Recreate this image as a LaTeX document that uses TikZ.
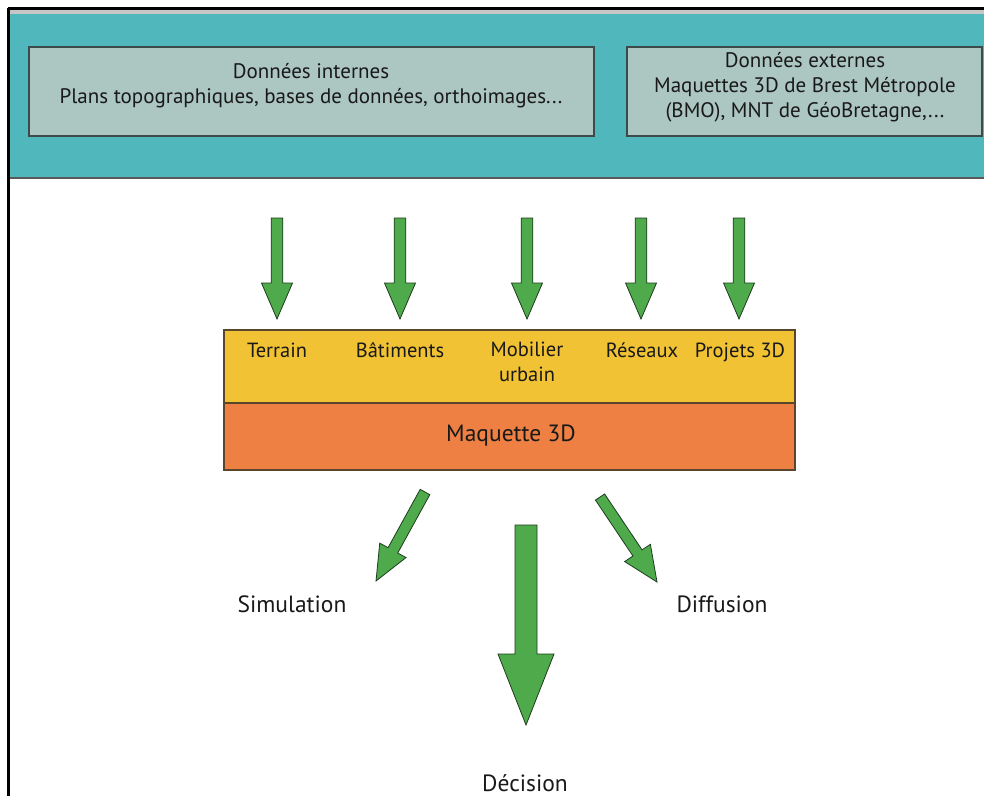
\documentclass[tikz,border=0pt]{standalone}
\usepackage{fontspec}
\setmainfont{PT Sans}
\usetikzlibrary{calc}
\definecolor{bandteal}{RGB}{80,184,188}
\definecolor{boxgray}{RGB}{172,198,193}
\definecolor{boxline}{RGB}{60,74,74}
\definecolor{layyellow}{RGB}{240,194,52}
\definecolor{layorange}{RGB}{237,128,66}
\definecolor{layline}{RGB}{90,70,45}
\definecolor{arrgreen}{RGB}{78,170,74}
\definecolor{arrline}{RGB}{30,60,30}
\definecolor{txt}{RGB}{25,25,25}
\tikzset{
  topbox/.style={draw=boxline, line width=1.5pt, fill=boxgray, inner sep=0pt},
  toptext/.style={font=\fontsize{21}{25}\selectfont, text=txt, align=center, inner sep=0pt},
  laytext/.style={font=\fontsize{20.5}{24.5}\selectfont, text=txt, align=center, inner sep=0pt},
  outtext/.style={font=\fontsize{23.5}{27}\selectfont, text=txt, inner sep=0pt},
  fatarrow/.style={draw=arrline, line width=0.8pt, fill=arrgreen, line join=miter},
}
\newcommand\fatarrow[7]{%
  \pgfmathsetmacro\fadx{#3-#1}%
  \pgfmathsetmacro\fady{#4-#2}%
  \pgfmathsetmacro\faang{atan2(-\fady,\fadx)}%
  \pgfmathsetmacro\falen{veclen(\fadx,\fady)}%
  \pgfmathsetmacro\fab{\falen-#7}%
  \begin{scope}[shift={(#1,#2)},rotate=\faang,y=1pt]
    \draw[fatarrow] (0,-#5) -- (\fab,-#5) -- (\fab,-#6) -- (\falen,0) -- (\fab,#6) -- (\fab,#5) -- (0,#5) -- cycle;
  \end{scope}}
\begin{document}
\begin{tikzpicture}[x=1pt,y=-1pt]
\useasboundingbox (0,0) rectangle (984,796);
\fill[white] (0,0) rectangle (984,796);
% top band
\fill[bandteal] (8,8) rectangle (984,178);
\fill[gray!45] (8,10) rectangle (984,14);
\draw[gray!70!black, line width=1.2pt] (8,178) -- (984,178);
\draw[black, line width=2.5pt] (8,8.5) -- (984,8.5);
\draw[black, line width=2.5pt] (8.5,7.5) -- (8.5,796);
% source boxes
\node[topbox, minimum width=565pt, minimum height=89pt] (intbox) at (311.5,91.5) {};
\node[toptext] (inttext) at (311,86) {Données internes\\Plans topographiques, bases de données, orthoimages...};
\node[topbox, minimum width=355pt, minimum height=89pt] (extbox) at (804.5,91.5) {};
\node[toptext] (exttext) at (805,87) {Données externes\\Maquettes 3D de Brest Métropole\\(BMO), MNT de GéoBretagne,...};
% layers
\node[draw=layline, line width=1.5pt, fill=layyellow, minimum width=571pt, minimum height=73pt, inner sep=0pt] (layers) at (509.5,366.5) {};
\node[draw=layline, line width=1.5pt, fill=layorange, minimum width=571pt, minimum height=67pt, inner sep=0pt] (model) at (509.5,436.5) {};
\node[laytext, anchor=base] (terrain) at (277,357) {Terrain};
\node[laytext, anchor=base] (bati) at (400,357) {Bâtiments};
\node[laytext, anchor=north] (mobil) at (527,342) {Mobilier\\urbain};
\node[laytext, anchor=base] (reseaux) at (642,357) {Réseaux};
\node[laytext, anchor=base] (projets) at (740,357) {Projets 3D};
\node[font=\fontsize{23.5}{27}\selectfont, text=txt, inner sep=0pt] (modeltext) at (511,436) {Maquette 3D};
% input arrows
\fatarrow{277}{218}{277}{319}{5.8}{15.5}{36}
\fatarrow{400}{218}{400}{319}{5.8}{15.5}{36}
\fatarrow{527}{218}{527}{319}{5.8}{15.5}{36}
\fatarrow{641}{218}{641}{319}{5.8}{15.5}{36}
\fatarrow{739}{218}{739}{319}{5.8}{15.5}{36}
% output arrows
\fatarrow{425}{492}{376}{581}{5.5}{15}{35}
\fatarrow{600}{497}{657}{582}{5.5}{15.5}{35}
\fatarrow{526}{525}{526}{725}{11}{28}{71}
% output labels
\node[outtext] (sim) at (292,604) {Simulation};
\node[outtext] (diff) at (722,604) {Diffusion};
\node[outtext] (dec) at (525,783) {Décision};
\end{tikzpicture}
\end{document}
